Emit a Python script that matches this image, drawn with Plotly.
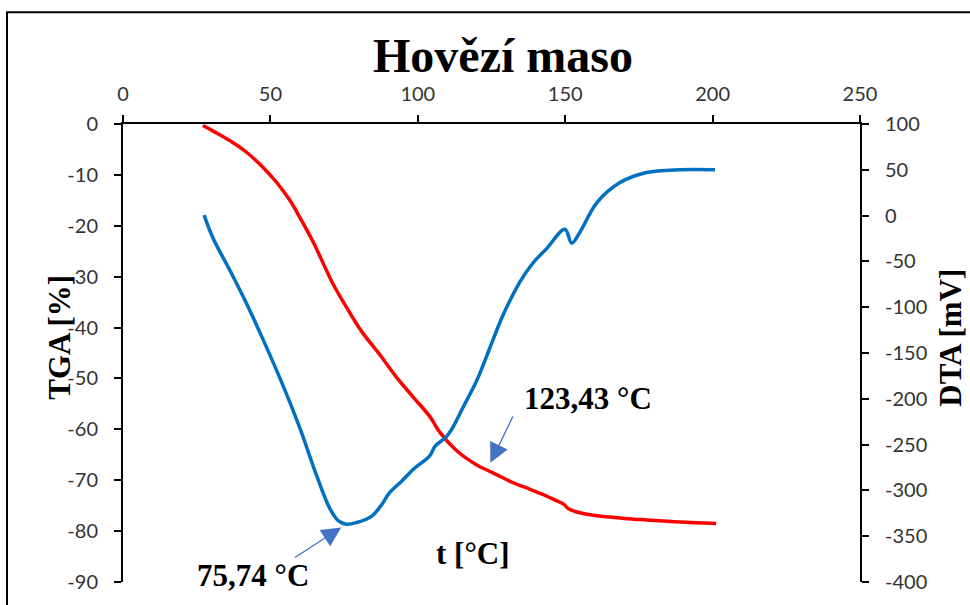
import plotly.graph_objects as go

# TGA curve (mass change, %)
tga_t = [27.1, 30.6, 36.3, 42.0, 47.6, 52.0, 56.6, 60.5, 64.6, 68.0, 71.3, 75.9,
         81.0, 87.2, 92.8, 98.5, 104.1, 107.5, 113.2, 120.0, 123.43, 126.7, 132.0,
         138.1, 144.0, 149.4, 151.1, 155.0, 160.7, 170.0, 177.6, 188.9, 201.2]
tga_v = [-0.3, -1.4, -3.3, -5.6, -8.6, -11.4, -15.0, -18.9, -23.3, -27.5, -31.5, -36.1,
         -40.8, -45.4, -49.8, -53.7, -57.5, -60.6, -64.2, -67.0, -68.0, -68.9, -70.4,
         -71.8, -73.2, -74.7, -75.6, -76.4, -77.0, -77.5, -77.8, -78.2, -78.5]

# DTA curve (mV)
dta_t = [27.5, 30.6, 36.3, 42.5, 46.5, 53.3, 60.0, 65.7, 70.2, 73.0, 75.74, 79.3,
         84.4, 87.2, 90.6, 94.5, 98.5, 104.1, 105.8, 109.8, 112.1, 115.4, 120.0,
         124.5, 129.0, 134.7, 139.0, 143.7, 149.9, 152.2, 155.0, 160.7, 168.6,
         177.6, 188.9, 200.8]
dta_v = [0.6, -25.0, -60.0, -100.0, -128.0, -178.0, -232.0, -284.0, -320.0, -333.0,
         -337.0, -335.0, -328.0, -318.0, -302.0, -290.0, -277.0, -262.0, -252.0,
         -241.0, -230.0, -209.0, -180.0, -144.0, -108.0, -72.0, -52.0, -36.0, -15.0,
         -30.0, -18.0, 14.0, 36.0, 47.0, 50.0, 50.0]

# Axis ticks
x_ticks = [0, 50, 100, 150, 200, 250]
tga_ticks = [0, -10, -20, -30, -40, -50, -60, -70, -80, -90]
tga_tick_text = ["0", "-10", "-20", "-30", "-40", "-50", "-60", "-70", "-80", "-90"]
dta_ticks = [100, 50, 0, -50, -100, -150, -200, -250, -300, -350, -400]
dta_tick_text = ["100", "50", "0", "-50", "-100", "-150", "-200", "-250", "-300", "-350", "-400"]

# Peak temperatures marked on the chart
dta_peak_t = 75.74
tga_step_t = 123.43

SERIF = "Liberation Serif"
SANS = "Lato"

# Plot-area geometry (pixels) used to place free text
W, H = 970, 605
L, R, T, B = 123, 110, 124, 18
PW, PH = W - L - R, H - T - B


def px(xp):
    return (xp - L) / PW


def py(yp):
    return (H - B - yp) / PH


def interp(xs, ys, x):
    for i in range(len(xs) - 1):
        if xs[i] <= x <= xs[i + 1]:
            f = (x - xs[i]) / (xs[i + 1] - xs[i])
            return ys[i] + f * (ys[i + 1] - ys[i])
    return ys[-1]


fig = go.Figure()
fig.add_trace(go.Scatter(x=tga_t, y=tga_v, mode="lines", name="TGA",
                         line=dict(color="#FF0000", width=3.5, shape="spline", smoothing=1.0),
                         yaxis="y"))
fig.add_trace(go.Scatter(x=dta_t, y=dta_v, mode="lines", name="DTA",
                         line=dict(color="#0070C0", width=3.5, shape="spline", smoothing=1.0),
                         yaxis="y2"))

axis_common = dict(showgrid=False, zeroline=False, showline=True, linecolor="black",
                   linewidth=2, ticks="outside", ticklen=7, tickwidth=1.5,
                   tickcolor="black", tickfont=dict(family=SANS, size=20, color="#333333"))

fig.update_layout(
    width=W, height=H,
    margin=dict(l=L, r=R, t=T, b=B),
    paper_bgcolor="white", plot_bgcolor="white",
    showlegend=False,
    xaxis=dict(range=[0, 250], tickvals=x_ticks, side="top", ticklabelstandoff=6,
               **axis_common),
    yaxis=dict(range=[-90, 0], tickvals=tga_ticks, ticktext=tga_tick_text,
               ticklabelstandoff=12, **axis_common),
    yaxis2=dict(range=[-400, 100], tickvals=dta_ticks, ticktext=dta_tick_text,
                overlaying="y", side="right", anchor="x", ticklabelstandoff=12,
                **axis_common),
)

# Outer frame
fig.add_shape(type="rect", xref="paper", yref="paper",
              x0=px(7), x1=px(980), y0=py(620), y1=py(11),
              line=dict(color="black", width=2), fillcolor="rgba(0,0,0,0)")

texts = [
    ("<b>Hovězí maso</b>", 503, 55, 48, 0),
    ("<b>TGA [%]</b>", 60, 340, 31, -90),
    ("<b>DTA [mV]</b>", 951, 340, 31, -90),
    ("<b>t [°C]</b>", 473, 558, 31, 0),
    ("<b>75,74 °C</b>", 253, 580, 31, 0),
    ("<b>123,43 °C</b>", 588, 401, 31, 0),
]
for txt, xp, yp, size, ang in texts:
    fig.add_annotation(text=txt, xref="paper", yref="paper", x=px(xp), y=py(yp),
                       showarrow=False, textangle=ang, xanchor="center", yanchor="middle",
                       font=dict(family=SERIF, size=size, color="black"))

# Arrows pointing to the DTA minimum and the TGA step
dta_peak_v = interp(dta_t, dta_v, dta_peak_t)
fig.add_annotation(text="", x=dta_peak_t, y=dta_peak_v, xref="x", yref="y2",
                   ax=57.8, ay=-374.4, axref="x", ayref="y2",
                   showarrow=True, arrowhead=2, arrowsize=3.0, arrowwidth=1.3,
                   arrowcolor="#4472C4", standoff=6)
tga_step_v = interp(tga_t, tga_v, tga_step_t)
fig.add_annotation(text="", x=tga_step_t, y=tga_step_v, xref="x", yref="y",
                   ax=132.5, ay=-57.2, axref="x", ayref="y",
                   showarrow=True, arrowhead=2, arrowsize=3.0, arrowwidth=1.3,
                   arrowcolor="#4472C4", standoff=8)

fig.write_html("out.html")
